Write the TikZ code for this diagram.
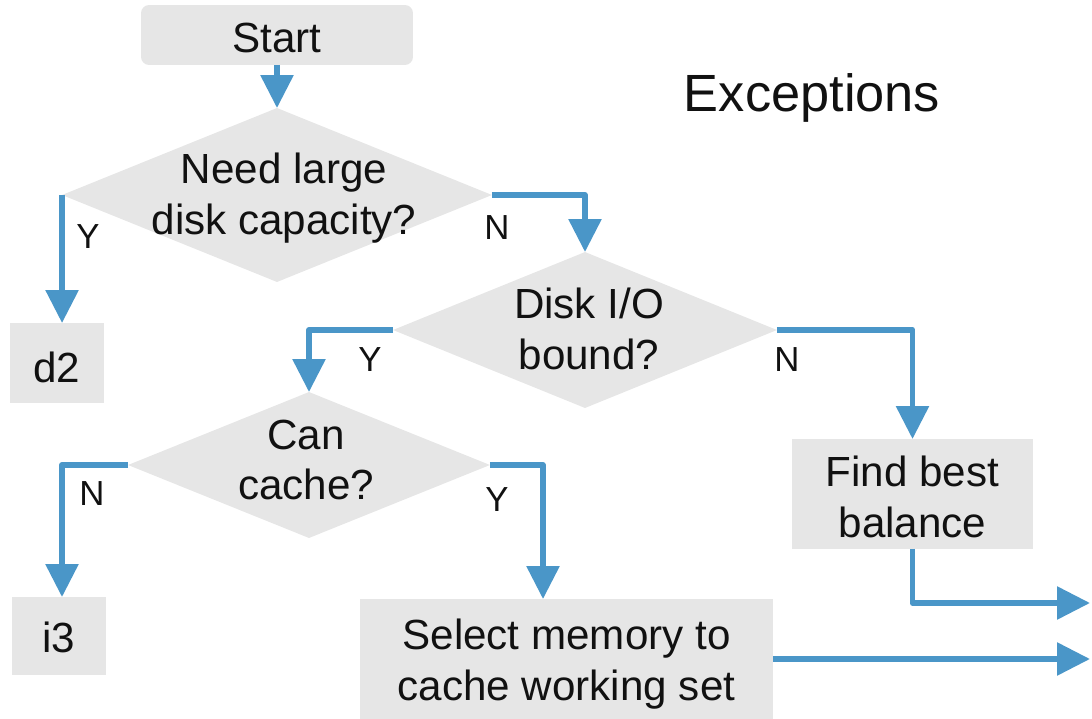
\documentclass[tikz,border=0pt]{standalone}
\usepackage{fontspec}
\setmainfont{Liberation Sans}
\usetikzlibrary{shapes.geometric,arrows.meta,calc}
\definecolor{boxgray}{HTML}{E6E6E6}
\definecolor{flowblue}{HTML}{4A96C8}
\definecolor{ink}{HTML}{111111}
\begin{document}
\begin{tikzpicture}[x=0.02cm,y=-0.02cm,
  every node/.style={outer sep=0pt, inner sep=0pt, text=ink},
  txt/.style={font=\fontsize{24}{29}\selectfont, align=center},
  lbl/.style={font=\fontsize{19.8}{22}\selectfont},
  boxnode/.style={rectangle, fill=boxgray},
  decision/.style={diamond, fill=boxgray},
  flow/.style={draw=flowblue, line width=3.3pt, line join=round,
    -{Triangle[length=0.66cm,width=0.64cm]}}]
\useasboundingbox (0,0) rectangle (1092,719);

% shapes
\node[boxnode, rounded corners=0.16cm, minimum width=5.44cm, minimum height=1.2cm] (start) at (277,35) {};
\node[decision, minimum width=8.6cm, minimum height=3.48cm] (capq) at (277,195) {};
\node[boxnode, minimum width=1.88cm, minimum height=1.6cm] (dtwo) at (57,363) {};
\node[decision, minimum width=7.68cm, minimum height=3.12cm] (ioq) at (585,330) {};
\node[decision, minimum width=7.24cm, minimum height=2.92cm] (cacheq) at (309,465) {};
\node[boxnode, minimum width=1.88cm, minimum height=1.56cm] (ithree) at (59,636) {};
\node[boxnode, minimum width=4.82cm, minimum height=2.2cm] (balance) at (912.5,494) {};
\node[boxnode, minimum width=8.26cm, minimum height=2.4cm] (selmem) at (566.5,659) {};

% texts
\node[txt] (start-t) at (277,38) {Start};
\node[txt] (capq-t) at (284,198) {Need large\\disk capacity?};
\node[txt] (dtwo-t) at (57,367) {d2};
\node[txt] (ioq-t) at (589,329) {Disk I/O\\bound?};
\node[txt] (cacheq-t) at (306,460) {Can\\cache?};
\node[txt] (ithree-t) at (59,637) {i3};
\node[txt] (balance-t) at (912.5,497) {Find best\\balance};
\node[txt] (selmem-t) at (566.5,664) {Select memory to\\cache working set};
\node[font=\fontsize{29.8}{34}\selectfont] (exc) at (812,98) {Exceptions};

% free ends of the outgoing arrows
\coordinate (outa) at (1090,603);
\coordinate (outb) at (1090,659);

% connectors
\draw[flow] (start.south) -- (capq.north);
\draw[flow] (capq.west) -- (capq.west |- dtwo.north);
\draw[flow] (capq.east) -| (ioq.north);
\draw[flow] (ioq.west) -| (cacheq.north);
\draw[flow] (ioq.east) -| (balance.north);
\draw[flow] (cacheq.west) -| ([xshift=0.06cm]ithree.north);
\draw[flow] (cacheq.east) -| ([xshift=-0.47cm]selmem.north);
\draw[flow] (balance.south) |- (outa);
\draw[flow] (selmem.east) -- (outb);

% branch labels
\node[lbl] at (88,237) {Y};
\node[lbl] at (497,228) {N};
\node[lbl] at (370,360) {Y};
\node[lbl] at (787,360) {N};
\node[lbl] at (92,494) {N};
\node[lbl] at (497,500) {Y};
\end{tikzpicture}
\end{document}
